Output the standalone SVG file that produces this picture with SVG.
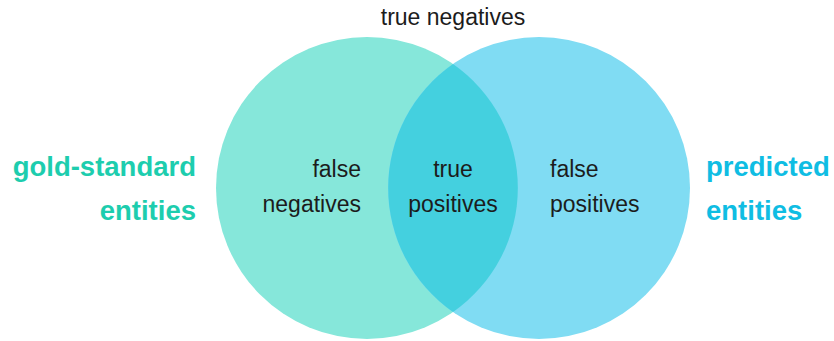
<svg xmlns="http://www.w3.org/2000/svg" width="834" height="341" viewBox="0 0 834 341">
  <style>
    .lbl { font-family: "Liberation Sans", Arial, sans-serif; font-size: 23px; fill: #1c1c1c; }
    .big { font-family: "Liberation Sans", Arial, sans-serif; font-size: 27.5px; font-weight: bold; }
    .gold { fill: #1dcdae; }
    .pred { fill: #0fbde3; }
  </style>
  <rect width="834" height="341" fill="#ffffff"/>
  <g id="gold-circle">
    <circle cx="367" cy="188" r="151" fill="#86e7da"/>
  </g>
  <g id="pred-circle">
    <circle cx="539" cy="188" r="151" fill="#80dcf3"/>
  </g>
  <g id="overlap">
    <path d="M453,64 A151,151 0 0,0 453,312 A151,151 0 0,0 453,64 Z" fill="#44d0df"/>
  </g>
  <g id="true-negatives">
    <text class="lbl" x="453" y="25" text-anchor="middle">true negatives</text>
  </g>
  <g id="false-negatives">
    <text class="lbl" x="361" y="177" text-anchor="end">false</text>
    <text class="lbl" x="361" y="211.5" text-anchor="end">negatives</text>
  </g>
  <g id="true-positives">
    <text class="lbl" x="453" y="177" text-anchor="middle">true</text>
    <text class="lbl" x="453" y="211.5" text-anchor="middle">positives</text>
  </g>
  <g id="false-positives">
    <text class="lbl" x="550" y="177" text-anchor="start">false</text>
    <text class="lbl" x="550" y="211.5" text-anchor="start">positives</text>
  </g>
  <g id="gold-standard-label">
    <text class="big gold" x="196" y="176" text-anchor="end">gold-standard</text>
    <text class="big gold" x="196" y="220" text-anchor="end">entities</text>
  </g>
  <g id="predicted-label">
    <text class="big pred" x="706" y="176" text-anchor="start">predicted</text>
    <text class="big pred" x="706" y="220" text-anchor="start">entities</text>
  </g>
  <g id="connectors"></g>
</svg>
